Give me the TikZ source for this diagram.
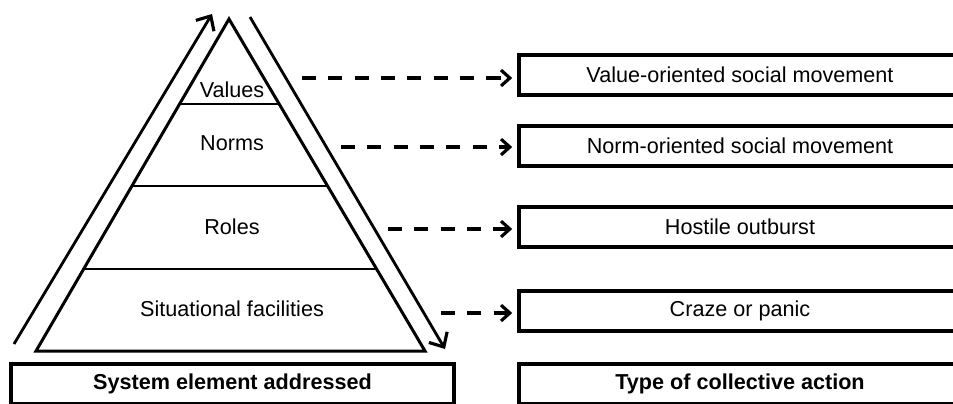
\documentclass[tikz,border=0pt]{standalone}
\usepackage{fontspec}
\setmainfont{Liberation Sans}
\usetikzlibrary{arrows, arrows.meta}
\usetikzlibrary{calc}
\tikzset{
  layer/.style={font=\fontsize{12.3}{14}\selectfont},
  actbox/.style={draw, line width=1.8pt, minimum width=8.84cm, minimum height=0.8cm, inner sep=0pt, font=\fontsize{12.3}{14}\selectfont},
  headbox/.style={actbox, font=\fontsize{12.3}{14}\selectfont\bfseries},
  dasharrow/.style={line width=2pt, dash pattern=on 8pt off 7pt, -{Straight Barb[length=5pt,width=9pt,line width=1.8pt]}, shorten >=3pt},
  sidearrow/.style={line width=1.6pt, -{Straight Barb[length=6.5pt,width=12pt,line width=1.8pt]}}
}
\begin{document}
\begin{tikzpicture}[x=0.02cm, y=-0.02cm]
      \useasboundingbox (0,0) rectangle (953,403);

      \coordinate (apex) at (229,19);
      \coordinate (bl) at (36,351);
      \coordinate (br) at (425,351);
      \draw[line width=1.7pt, line join=miter] (apex) -- (bl) -- (br) -- cycle;
      \foreach \t in {0.256, 0.503, 0.753}
        \draw[line width=1.5pt] ($(apex)!\t!(bl)$) -- ($(apex)!\t!(br)$);

      \node[layer] (values) at (232,90) {Values};
      \node[layer] (norms) at (232,143) {Norms};
      \node[layer] (roles) at (232,227) {Roles};
      \node[layer] (facilities) at (232,309) {Situational facilities};

      \coordinate (up1) at (14,344);
      \coordinate (up2) at (212,14);
      \coordinate (down1) at (250,17);
      \coordinate (down2) at (445,349);
      \draw[sidearrow] (up1) -- (up2);
      \draw[sidearrow] (down1) -- (down2);

      \node[headbox, minimum width=8.86cm] (element) at (232.5,384) {System element addressed};

      \node[actbox] (valuemov) at (740,75) {Value-oriented social movement};
      \node[actbox] (normmov) at (740,146) {Norm-oriented social movement};
      \node[actbox] (hostile) at (740,227) {Hostile outburst};
      \node[actbox] (craze) at (740,311) {Craze or panic};
      \node[headbox] (action) at (740,384) {Type of collective action};

      \coordinate (d1) at (302,78);
      \coordinate (d2) at (341,147);
      \coordinate (d3) at (388,229);
      \coordinate (d4) at (441,313);
      \draw[dasharrow] (d1) -- (d1 -| valuemov.west);
      \draw[dasharrow] (d2) -- (d2 -| normmov.west);
      \draw[dasharrow] (d3) -- (d3 -| hostile.west);
      \draw[dasharrow] (d4) -- (d4 -| craze.west);
    \end{tikzpicture}
\end{document}
